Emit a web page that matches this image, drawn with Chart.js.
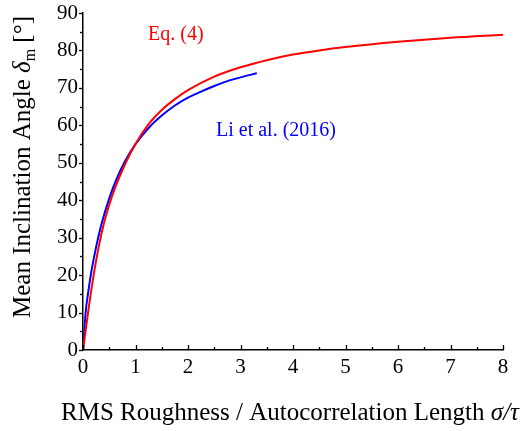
<!DOCTYPE html>
<html lang="en">
<head>
    <meta charset="UTF-8">
    <title>Mean Inclination Angle</title>
    <script src="https://cdn.jsdelivr.net/npm/chart.js"></script>
    <style>
        body { margin: 0; padding: 0; background: white; }
        .chart-container { width: 528px; height: 431px; position: relative; }
    </style>
</head>
<body>
    <div class="chart-container">
        <canvas id="angleChart"></canvas>
    </div>

    <script>
        // Eq. (4) curve
        const eqX = [0, 0.1, 0.2, 0.3, 0.4, 0.5, 0.6, 0.8, 1.0, 1.25, 1.5, 1.75, 2.0, 2.5, 3.0, 3.5, 4.0, 4.5, 5.0, 6.0, 7.0, 8.0];
        const eqY = [0, 10.4, 19.8, 27.6, 33.9, 38.8, 42.9, 49.6, 55.0, 60.3, 64.1, 67.0, 69.4, 73.0, 75.5, 77.4, 78.9, 80.0, 80.9, 82.3, 83.4, 84.2];

        // Li et al. (2016)
        const liX = [0, 0.05, 0.1, 0.16, 0.25, 0.35, 0.5, 0.65, 0.8, 1.0, 1.25, 1.5, 1.75, 2.0, 2.25, 2.5, 2.75, 3.0, 3.31];
        const liY = [0, 10, 15.5, 21, 27.5, 33.5, 40.5, 46, 50.4, 55.0, 59.3, 62.6, 65.3, 67.4, 69.0, 70.5, 71.8, 72.8, 73.9];

        const xTicks = [0, 1, 2, 3, 4, 5, 6, 7, 8];
        const yTicks = [0, 10, 20, 30, 40, 50, 60, 70, 80, 90];

        const serif = '"Liberation Serif", "Times New Roman", serif';

        function toPoints(xs, ys) {
            return xs.map((x, i) => ({ x: x, y: ys[i] }));
        }

        // draws ticks, tick labels, axis titles and curve labels
        const axisDecor = {
            id: 'axisDecor',
            afterDraw(chart) {
                const ctx = chart.ctx;
                const xs = chart.scales.x, ys = chart.scales.y;
                const area = chart.chartArea;
                ctx.save();
                ctx.strokeStyle = '#000';
                ctx.fillStyle = '#000';
                ctx.lineWidth = 1.3;

                // x ticks point inward
                for (let v = 0; v <= 8; v += 0.5) {
                    const px = Math.round(xs.getPixelForValue(v)) + 0.5;
                    const len = Number.isInteger(v) ? 5 : 3;
                    ctx.beginPath();
                    ctx.moveTo(px, area.bottom);
                    ctx.lineTo(px, area.bottom - len);
                    ctx.stroke();
                }
                // y ticks point outward
                for (let v = 0; v <= 90; v += 5) {
                    const py = Math.round(ys.getPixelForValue(v)) + 0.5;
                    const len = v % 10 === 0 ? 4 : 3;
                    ctx.beginPath();
                    ctx.moveTo(area.left, py);
                    ctx.lineTo(area.left - len, py);
                    ctx.stroke();
                }

                ctx.font = '21px ' + serif;
                ctx.textAlign = 'center';
                ctx.textBaseline = 'middle';
                xTicks.forEach(v => ctx.fillText(String(v), xs.getPixelForValue(v), area.bottom + 17));
                ctx.textAlign = 'right';
                yTicks.forEach(v => ctx.fillText(String(v), area.left - 5, ys.getPixelForValue(v)));

                // x title with italic sigma/tau
                ctx.textBaseline = 'alphabetic';
                ctx.textAlign = 'left';
                const xPart1 = 'RMS Roughness / Autocorrelation Length ';
                const xPart2 = '\u03c3/\u03c4';
                ctx.font = '25px ' + serif;
                const w1 = ctx.measureText(xPart1).width;
                ctx.font = 'italic 25px ' + serif;
                const w2 = ctx.measureText(xPart2).width;
                const sx = 290 - (w1 + w2) / 2;
                ctx.font = '25px ' + serif;
                ctx.fillText(xPart1, sx, 420);
                ctx.font = 'italic 25px ' + serif;
                ctx.fillText(xPart2, sx + w1, 420);

                // y title, rotated
                ctx.save();
                ctx.translate(30, 167);
                ctx.rotate(-Math.PI / 2);
                const segs = [
                    { t: 'Mean Inclination Angle ', f: '25px ' + serif, dy: 0 },
                    { t: '\u03b4', f: 'italic 25px ' + serif, dy: 0 },
                    { t: 'm', f: '16px ' + serif, dy: 5 },
                    { t: ' [\u00b0]', f: '25px ' + serif, dy: 0 }
                ];
                let total = 0;
                segs.forEach(s => { ctx.font = s.f; s.w = ctx.measureText(s.t).width; total += s.w; });
                let cx = -total / 2;
                segs.forEach(s => { ctx.font = s.f; ctx.fillText(s.t, cx, s.dy); cx += s.w; });
                ctx.restore();

                // curve labels
                ctx.font = '20px ' + serif;
                ctx.fillStyle = '#ff0000';
                ctx.fillText('Eq. (4)', 148, 40);
                ctx.fillStyle = '#0000ff';
                ctx.fillText('Li et al. (2016)', 216, 136);
                ctx.restore();
            }
        };

        new Chart(document.getElementById('angleChart'), {
            type: 'scatter',
            data: {
                datasets: [{
                    label: 'Eq. (4)',
                    data: toPoints(eqX, eqY),
                    showLine: true,
                    borderColor: '#ff0000',
                    borderWidth: 2,
                    pointRadius: 0,
                    cubicInterpolationMode: 'monotone'
                }, {
                    label: 'Li et al. (2016)',
                    data: toPoints(liX, liY),
                    showLine: true,
                    borderColor: '#0000ff',
                    borderWidth: 2,
                    pointRadius: 0,
                    cubicInterpolationMode: 'monotone'
                }]
            },
            options: {
                responsive: true,
                maintainAspectRatio: false,
                animation: false,
                layout: { padding: { left: 83, right: 25, top: 13, bottom: 81 } },
                plugins: {
                    legend: { display: false },
                    tooltip: { enabled: false }
                },
                scales: {
                    x: {
                        type: 'linear',
                        min: 0,
                        max: 8,
                        grid: { display: false, drawTicks: false },
                        border: { display: true, color: '#000', width: 1.5 },
                        ticks: { display: false }
                    },
                    y: {
                        type: 'linear',
                        min: 0,
                        max: 90,
                        grid: { display: false, drawTicks: false },
                        border: { display: true, color: '#000', width: 1.5 },
                        ticks: { display: false }
                    }
                }
            },
            plugins: [axisDecor]
        });
    </script>
</body>
</html>
